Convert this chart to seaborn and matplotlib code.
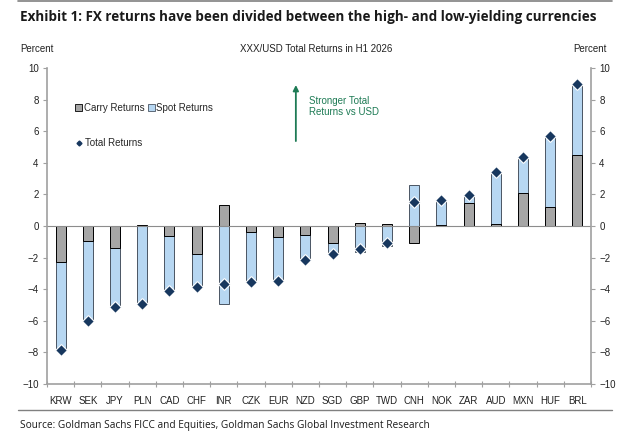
import numpy as np
import matplotlib
matplotlib.use("Agg")
import matplotlib.pyplot as plt
import seaborn as sns
from matplotlib.patches import Patch
from matplotlib.lines import Line2D

# values (percent)
currencies = ["KRW", "SEK", "JPY", "PLN", "CAD", "CHF", "INR", "CZK", "EUR", "NZD",
              "SGD", "GBP", "TWD", "CNH", "NOK", "ZAR", "AUD", "MXN", "HUF", "BRL"]
carry = [-2.3, -0.95, -1.4, 0.05, -0.65, -1.8, 1.3, -0.35, -0.7, -0.55,
         -1.1, 0.2, 0.15, -1.05, 0.05, 1.45, 0.1, 2.1, 1.2, 4.5]
spot = [-5.6, -5.05, -3.75, -4.95, -3.4, -2.05, -4.95, -3.2, -2.8, -1.6,
        -0.65, -1.65, -1.25, 2.6, 1.6, 0.5, 3.35, 2.25, 4.5, 4.5]
total = [-7.85, -6.0, -5.15, -4.93, -4.1, -3.85, -3.65, -3.57, -3.48, -2.17,
         -1.77, -1.45, -1.1, 1.55, 1.65, 1.95, 3.45, 4.35, 5.7, 9.0]

carry_col = "#a6a6a6"
spot_col = "#b7d7f2"
mark_col = "#17375e"
green = "#1e7b55"
axis_col = "#a0a0a0"
text_col = "#222222"

sns.set_style("white")
plt.rcParams["font.family"] = ["Liberation Sans", "DejaVu Sans"]

fig = plt.figure(figsize=(6.32, 4.38), dpi=100)
ax = fig.add_axes([0.0744, 0.1233, 0.8606, 0.7214])

c = np.array(carry)
s = np.array(spot)
# excel-style stacking: same-sign parts stack, opposite signs start at zero
spot_top = np.where(np.sign(c) == np.sign(s), c + s, s)

sns.barplot(x=currencies, y=spot_top, color=spot_col, width=0.37,
            edgecolor="#4a5563", linewidth=0.7, saturation=1, ax=ax)
sns.barplot(x=currencies, y=carry, color=carry_col, width=0.37,
            edgecolor="black", linewidth=0.7, saturation=1, ax=ax)
sns.scatterplot(x=currencies, y=total, marker="D", s=36, color=mark_col,
                edgecolor="white", linewidth=0.8, zorder=5, ax=ax)

ax.axhline(0, color="#8c8c8c", lw=0.8, zorder=1)
ax.set_xlim(-0.5, len(currencies) - 0.5)
ax.set_ylim(-10, 10)
ax.set_yticks(range(-10, 11, 2))
ax.set_xlabel("")
ax.set_ylabel("")

ax.spines["top"].set_visible(False)
for side in ["left", "right", "bottom"]:
    ax.spines[side].set_visible(True)
    ax.spines[side].set_color(axis_col)
    ax.spines[side].set_linewidth(1.2)

ax.tick_params(axis="y", which="both", left=True, right=True, labelleft=True,
               labelright=True, direction="out", length=3, width=0.8,
               color=axis_col, labelsize=7, labelcolor=text_col, pad=3)
ax.tick_params(axis="x", which="major", bottom=False, labelsize=7,
               labelcolor=text_col, pad=5)
ax.set_xticks(np.arange(-0.5, len(currencies), 1.0), minor=True)
ax.tick_params(axis="x", which="minor", bottom=True, direction="inout",
               length=4, width=0.8, color=axis_col)
ax.grid(False)

# legend
h1 = [Patch(facecolor=carry_col, edgecolor="black", linewidth=0.6, label="Carry Returns"),
      Patch(facecolor=spot_col, edgecolor="#4a5563", linewidth=0.6, label="Spot Returns")]
leg1 = ax.legend(handles=h1, loc="center left", bbox_to_anchor=(0.045, 0.873), ncol=2,
                 frameon=False, fontsize=7, handlelength=0.7, handleheight=0.7,
                 handletextpad=0.15, columnspacing=0.4, borderaxespad=0)
ax.add_artist(leg1)
h2 = [Line2D([], [], marker="D", ls="", color=mark_col, markersize=2.5, label="Total Returns")]
ax.legend(handles=h2, loc="center left", bbox_to_anchor=(0.045, 0.763), frameon=False,
          fontsize=7, handlelength=0.7, handletextpad=0.3, borderaxespad=0)

# annotation arrow
ax.annotate("", xy=(8.65, 9.1), xytext=(8.65, 5.2),
            arrowprops=dict(arrowstyle="-|>", color=green, lw=1.3, mutation_scale=8))
ax.text(9.15, 7.55, "Stronger Total\nReturns vs USD", color=green, fontsize=7,
        va="center", ha="left", linespacing=1.15)

# texts around the figure
fig.text(0.032, 0.962, "Exhibit 1: FX returns have been divided between the high- and low-yielding currencies",
         fontsize=9.75, fontweight="bold", family=["Open Sans", "DejaVu Sans"], color="#1a1a1a",
         va="center", ha="left")
fig.text(0.5, 0.887, "XXX/USD Total Returns in H1 2026", fontsize=7, ha="center",
         va="center", color=text_col)
fig.text(0.058, 0.887, "Percent", fontsize=7, ha="center", va="center", color=text_col)
fig.text(0.934, 0.887, "Percent", fontsize=7, ha="center", va="center", color=text_col)
fig.text(0.032, 0.016, "Source: Goldman Sachs FICC and Equities, Goldman Sachs Global Investment Research",
         fontsize=7.3, family=["Open Sans", "DejaVu Sans"], color="#1a1a1a", va="bottom", ha="left")
fig.add_artist(Line2D([0.028, 0.968], [0.997, 0.997], color="#808080", lw=1.2))
fig.add_artist(Line2D([0.028, 0.968], [0.064, 0.064], color="#808080", lw=1.0))

fig.savefig("out.png", dpi=100)
